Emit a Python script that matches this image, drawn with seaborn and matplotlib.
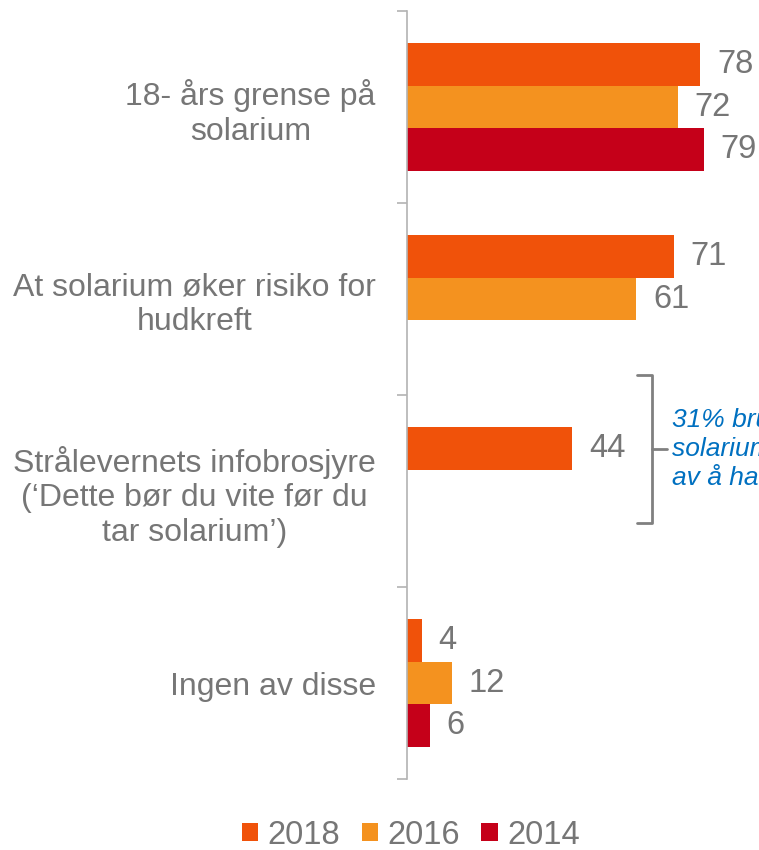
import numpy as np
import pandas as pd
import seaborn as sns
import matplotlib.pyplot as plt
from matplotlib.patches import Patch

# Data
categories = [
    "18- års grense på\nsolarium",
    "At solarium øker risiko for\nhudkreft",
    "Strålevernets infobrosjyre\n(‘Dette bør du vite før du\ntar solarium’)",
    "Ingen av disse",
]
years = ["2018", "2016", "2014"]
values_2018 = [78, 71, 44, 4]
values_2016 = [72, 61, np.nan, 12]
values_2014 = [79, np.nan, np.nan, 6]
colors = ["#F0520A", "#F4921F", "#C50019"]
note_text = "31% brukte\nsolarium til tross for\nav å ha lest den"

rows = []
for yr, vals in zip(years, [values_2018, values_2016, values_2014]):
    for cat, v in zip(categories, vals):
        rows.append({"cat": cat, "year": yr, "value": v})
df = pd.DataFrame(rows)

sns.set_style("white")
plt.rcParams["font.family"] = ["Liberation Sans", "DejaVu Sans"]
gray = "#767676"

fig = plt.figure(figsize=(7.59, 8.5), dpi=100)
ax = fig.add_axes([407 / 759, 1 - 779 / 850, 1 - 407 / 759, 768 / 850])

sns.barplot(data=df, y="cat", x="value", hue="year", order=categories,
            hue_order=years, palette=colors, orient="h", width=0.667,
            dodge=True, linewidth=0, saturation=1, ax=ax)

for cont in ax.containers:
    ax.bar_label(cont, fmt="%d", padding=12, fontsize=23.5, color=gray)

ax.set_xlim(0, (759 - 407) / 3.76)
ax.set_ylim(3.5, -0.5)
ax.set_xlabel("")
ax.set_ylabel("")
ax.xaxis.set_visible(False)
for s in ["top", "right", "bottom"]:
    ax.spines[s].set_visible(False)
ax.spines["left"].set_color("#b3b3b3")
ax.spines["left"].set_linewidth(1.2)

ax.set_yticks(range(len(categories)))
ax.set_yticklabels(categories, fontsize=23, color=gray, ha="right",
                   multialignment="center", linespacing=1.2)
ax.tick_params(axis="y", which="major", left=False, pad=19)
ax.set_yticks(np.arange(-0.5, len(categories), 1), minor=True)
ax.tick_params(axis="y", which="minor", left=True, length=7,
               color="#b3b3b3", width=1.2)
ax.get_legend().remove()

# brace next to the third group
bx, tip, hook = 65.2, 69.1, 61.2
y0, ym, y1 = 1.396, 1.78, 2.167
ax.plot([hook, bx, bx, tip], [y0, y0, ym, ym], color="#808080", lw=2,
        clip_on=False, solid_capstyle="round")
ax.plot([bx, bx, hook], [ym, y1, y1], color="#808080", lw=2,
        clip_on=False, solid_capstyle="round")
ax.text(70.5, ym, note_text, fontsize=19, style="italic", color="#0070C0",
        va="center", ha="left", linespacing=1.25, clip_on=False)

handles = [Patch(facecolor=c, edgecolor="none") for c in colors]
fig.legend(handles, years, loc="center", bbox_to_anchor=(411 / 759, 1 - 835 / 850),
           ncol=3, frameon=False, fontsize=23.5, labelcolor=gray,
           handlelength=0.5, handleheight=0.5, handletextpad=0.3,
           columnspacing=0.65)

plt.savefig("out.png", dpi=100)
